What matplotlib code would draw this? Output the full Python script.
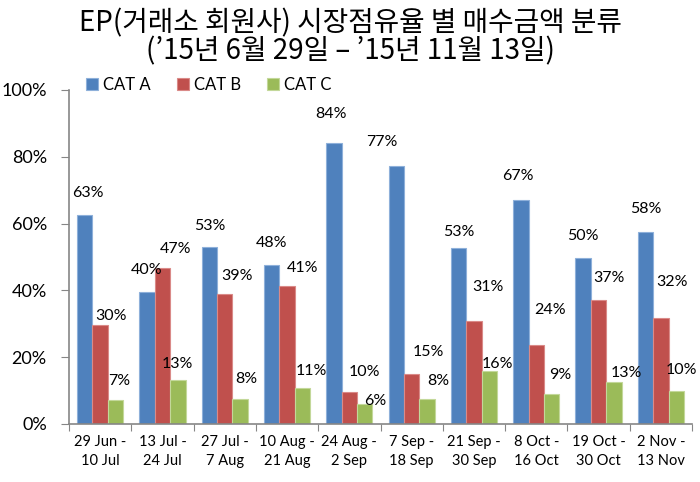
#! /usr/bin/env python3

import numpy as np
import matplotlib
matplotlib.use("Agg")
from matplotlib import pyplot as plt

# Periods (two-line tick labels)
periods = ["29 Jun -\n10 Jul", "13 Jul -\n24 Jul", "27 Jul -\n7 Aug", "10 Aug -\n21 Aug",
           "24 Aug -\n2 Sep", "7 Sep -\n18 Sep", "21 Sep -\n30 Sep", "8 Oct -\n16 Oct",
           "19 Oct -\n30 Oct", "2 Nov -\n13 Nov"]

# Share in %
cat_a = [62.6, 39.6, 52.9, 47.6, 84.2, 77.2, 52.7, 67.1, 49.6, 57.6]
cat_b = [29.7, 46.8, 38.9, 41.2, 9.6, 15.0, 30.7, 23.6, 37.2, 31.8]
cat_c = [7.2, 13.3, 7.6, 10.9, 6.1, 7.6, 15.9, 9.1, 12.6, 9.9]

series_names = ["CAT A", "CAT B", "CAT C"]
colors = ["#4F81BD", "#C0504D", "#9BBB59"]
edges  = ["#8EB0DA", "#DA8A88", "#C3D89A"]

# label offsets in pixels (dx, dy above bar top) -- hand placed like the original
offs_a = [(3, 22), (0, 22), (0, 21), (0, 22), (-3, 29), (-14, 24), (0, 16), (-3, 24), (0, 22), (0, 23)]
offs_b = [(11, 9), (13, 19), (12, 18), (15, 18), (15, 20), (17, 22), (14, 34), (14, 35), (10, 22), (11, 36)]
offs_c = [(4, 19), (0, 16), (6, 20), (9, 17), (11, 3), (11, 18), (8, 7), (9, 19), (12, 9), (5, 21)]

LATIN = ["Lato", "DejaVu Sans"]
KOREAN = ["Noto Sans CJK KR", "DejaVu Sans"]
plt.rcParams['font.family'] = LATIN

fig = plt.figure(figsize=(7, 4.82), dpi=100)
ax = fig.add_axes([69/700, 1 - 424/482, 623/700, 334/482])

x = np.arange(len(periods))
w = 0.247
handles = []
for i, (vals, offs) in enumerate(zip([cat_a, cat_b, cat_c], [offs_a, offs_b, offs_c])):
    xs = x + (i - 1) * w
    b = ax.bar(xs, vals, w, color=colors[i], edgecolor=edges[i], linewidth=0.8,
               label=series_names[i], zorder=2)
    handles.append(b)
    for xi, v, (dx, dy) in zip(xs, vals, offs):
        ax.annotate("%d%%" % round(v), (xi, v), xytext=(dx, dy), textcoords="offset pixels",
                    ha="center", va="center", fontsize=11.5, color="black")

ax.set_xlim(-0.5, len(periods) - 0.5)
ax.set_ylim(0, 100)
ax.set_yticks(np.arange(0, 101, 20))
ax.set_yticklabels(["%d%%" % t for t in range(0, 101, 20)], fontsize=13)

# category boundaries get the tick marks, names sit in between
ax.set_xticks(np.arange(-0.5, len(periods), 1.0))
ax.set_xticklabels([])
ax.set_xticks(x, minor=True)
ax.set_xticklabels(periods, minor=True, fontsize=10.5, linespacing=1.45)
ax.tick_params(axis="x", which="minor", length=0, pad=8)
ax.tick_params(axis="x", which="major", length=5, color="#868686")
ax.tick_params(axis="y", length=6, color="#868686", pad=10)

for s in ["top", "right"]:
    ax.spines[s].set_visible(False)
for s in ["left", "bottom"]:
    ax.spines[s].set_color("#868686")
    ax.spines[s].set_linewidth(1.2)

fig.legend(handles=handles, loc="center left", bbox_to_anchor=(86/700, 1 - 85/482),
           ncol=3, frameon=False, fontsize=12, handlelength=0.7, handleheight=0.7,
           handletextpad=0.3, columnspacing=1.6, borderaxespad=0, borderpad=0)

fig.text(0.5, 1 - 23/482, "EP(거래소 회원사) 시장점유율 별 매수금액 분류", ha="center", va="center",
         fontsize=20, family=KOREAN)
fig.text(0.5, 1 - 51/482, "(\u201915년 6월 29일 \u2013 \u201915년 11월 13일)", ha="center", va="center",
         fontsize=20, family=KOREAN)

plt.savefig("out.png", dpi=100)
